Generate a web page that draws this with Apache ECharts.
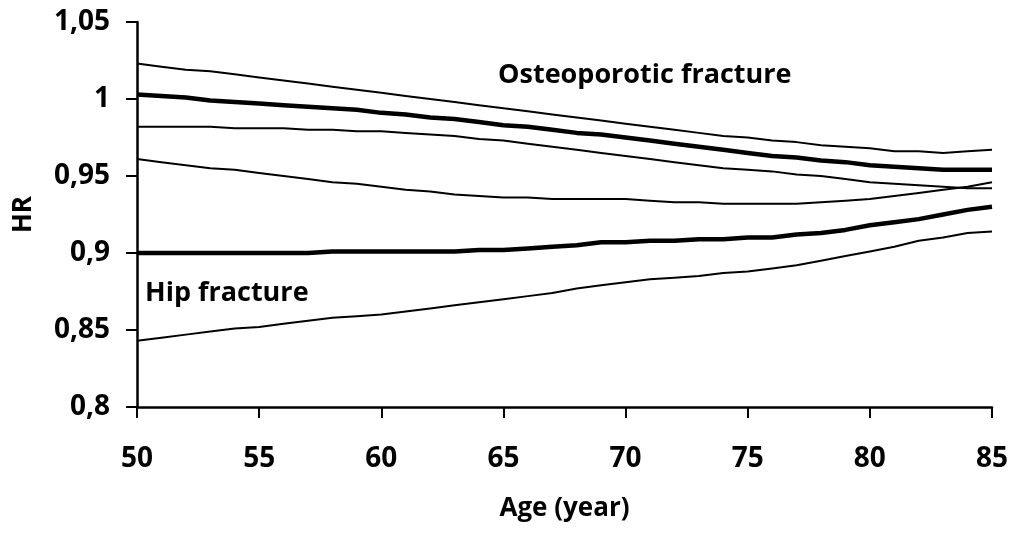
<!DOCTYPE html>
<html>
<head>
<meta charset="utf-8">
<script src="https://cdn.jsdelivr.net/npm/echarts@6/dist/echarts.min.js"></script>
<style>
    html, body { margin: 0; padding: 0; background: #ffffff; }
    #chart { width: 1011px; height: 536px; }
</style>
</head>
<body>
<div id="chart"></div>
<script>
    // ages 50..85, one value per year
    var ages = [50,51,52,53,54,55,56,57,58,59,60,61,62,63,64,65,66,67,68,69,70,71,72,73,74,75,76,77,78,79,80,81,82,83,84,85];

    // osteoporotic fracture: HR and 95% CI
    var osteoUpper = [1.023,1.021,1.019,1.018,1.016,1.014,1.012,1.010,1.008,1.006,1.004,1.002,1.000,0.998,0.996,0.994,0.992,0.990,0.988,0.986,0.984,0.982,0.980,0.978,0.976,0.975,0.973,0.972,0.970,0.969,0.968,0.966,0.966,0.965,0.966,0.967];
    var osteoHR = [1.003,1.002,1.001,0.999,0.998,0.997,0.996,0.995,0.994,0.993,0.991,0.990,0.988,0.987,0.985,0.983,0.982,0.980,0.978,0.977,0.975,0.973,0.971,0.969,0.967,0.965,0.963,0.962,0.960,0.959,0.957,0.956,0.955,0.954,0.954,0.954];
    var osteoLower = [0.982,0.982,0.982,0.982,0.981,0.981,0.981,0.980,0.980,0.979,0.979,0.978,0.977,0.976,0.974,0.973,0.971,0.969,0.967,0.965,0.963,0.961,0.959,0.957,0.955,0.954,0.953,0.951,0.950,0.948,0.946,0.945,0.944,0.943,0.942,0.942];

    // hip fracture: HR and 95% CI
    var hipUpper = [0.961,0.959,0.957,0.955,0.954,0.952,0.950,0.948,0.946,0.945,0.943,0.941,0.940,0.938,0.937,0.936,0.936,0.935,0.935,0.935,0.935,0.934,0.933,0.933,0.932,0.932,0.932,0.932,0.933,0.934,0.935,0.937,0.939,0.941,0.943,0.946];
    var hipHR = [0.900,0.900,0.900,0.900,0.900,0.900,0.900,0.900,0.901,0.901,0.901,0.901,0.901,0.901,0.902,0.902,0.903,0.904,0.905,0.907,0.907,0.908,0.908,0.909,0.909,0.910,0.910,0.912,0.913,0.915,0.918,0.920,0.922,0.925,0.928,0.930];
    var hipLower = [0.843,0.845,0.847,0.849,0.851,0.852,0.854,0.856,0.858,0.859,0.860,0.862,0.864,0.866,0.868,0.870,0.872,0.874,0.877,0.879,0.881,0.883,0.884,0.885,0.887,0.888,0.890,0.892,0.895,0.898,0.901,0.904,0.908,0.910,0.913,0.914];

    var fontName = '"Open Sans", sans-serif';

    function pairs(vals) {
        return ages.map(function (a, i) { return [a, vals[i]]; });
    }

    function lineSeries(name, vals, width) {
        return {
            name: name,
            type: 'line',
            data: pairs(vals),
            showSymbol: false,
            symbol: 'none',
            silent: true,
            lineStyle: { color: '#000000', width: width }
        };
    }

    var chart = echarts.init(document.getElementById('chart'));
    var options = {
        animation: false,
        backgroundColor: '#ffffff',
        grid: { left: 137, right: 18, top: 22, bottom: 129 },
        xAxis: {
            type: 'value',
            min: 50,
            max: 85,
            interval: 5,
            name: 'Age (year)',
            nameLocation: 'middle',
            nameGap: 89,
            nameTextStyle: { fontFamily: fontName, fontWeight: 'bold', fontSize: 26, color: '#000' },
            axisLine: { lineStyle: { color: '#000', width: 2.5 } },
            axisTick: { show: true, inside: false, length: 11, lineStyle: { color: '#000', width: 2 } },
            axisLabel: { margin: 38, fontFamily: fontName, fontWeight: 'bold', fontSize: 28, color: '#000' },
            splitLine: { show: false }
        },
        yAxis: {
            type: 'value',
            min: 0.8,
            max: 1.05,
            interval: 0.05,
            name: 'HR',
            nameLocation: 'middle',
            nameGap: 100,
            nameRotate: 90,
            nameTextStyle: { fontFamily: fontName, fontWeight: 'bold', fontSize: 26, color: '#000' },
            axisLine: { show: true, lineStyle: { color: '#000', width: 2.5 } },
            axisTick: { show: true, inside: false, length: 11, lineStyle: { color: '#000', width: 2 } },
            axisLabel: {
                margin: 27,
                fontFamily: fontName,
                fontWeight: 'bold',
                fontSize: 28,
                color: '#000',
                formatter: function (v) {
                    return String(parseFloat(v.toFixed(2))).replace('.', ',');
                }
            },
            splitLine: { show: false }
        },
        graphic: [
            {
                type: 'text',
                x: 498,
                y: 75,
                style: { text: 'Osteoporotic fracture', fontFamily: fontName, fontWeight: 'bold', fontSize: 27, fill: '#000', textVerticalAlign: 'middle' }
            },
            {
                type: 'text',
                x: 145,
                y: 293,
                style: { text: 'Hip fracture', fontFamily: fontName, fontWeight: 'bold', fontSize: 27, fill: '#000', textVerticalAlign: 'middle' }
            }
        ],
        series: [
            lineSeries('osteoUpper', osteoUpper, 2),
            lineSeries('osteoHR', osteoHR, 4.5),
            lineSeries('osteoLower', osteoLower, 2),
            lineSeries('hipUpper', hipUpper, 2),
            lineSeries('hipHR', hipHR, 4.5),
            lineSeries('hipLower', hipLower, 2)
        ]
    };
    chart.setOption(options);
</script>
</body>
</html>
